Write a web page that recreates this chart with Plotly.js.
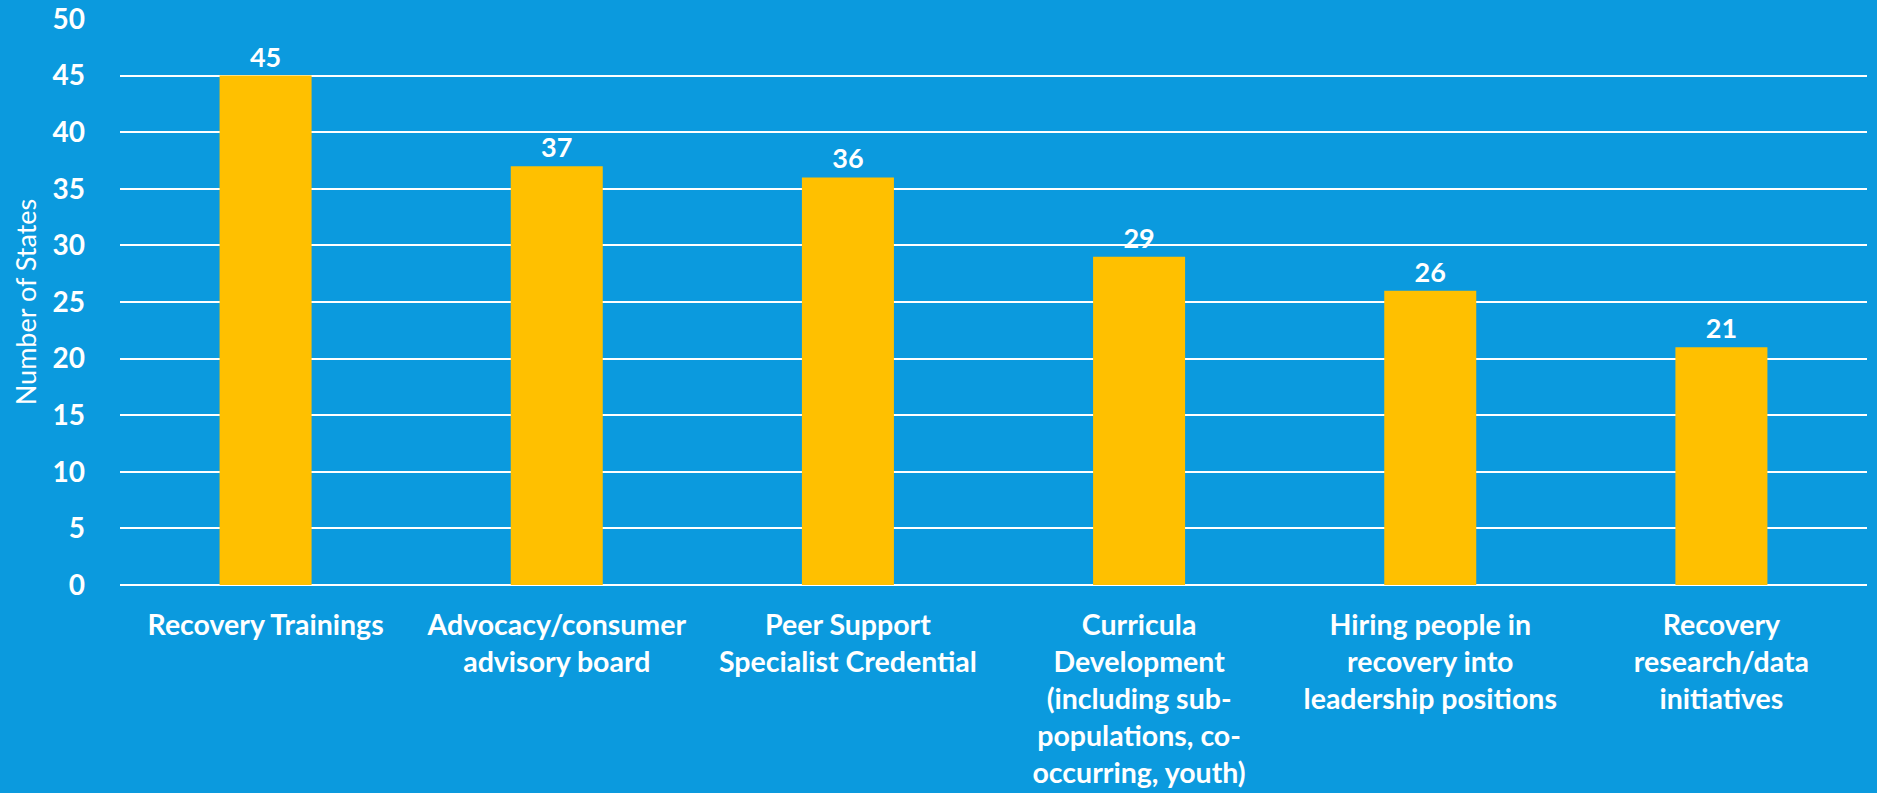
<!DOCTYPE html>
<html><head><meta charset="utf-8">
<script src="https://cdn.plot.ly/plotly-3.0.1.min.js"></script>
<style>html,body{margin:0;padding:0;background:#0B9ADE;}</style>
</head><body>
<div id="chart" style="width:1877px;height:793px;"></div>
<script>
const categories = [
  "Recovery Trainings",
  "Advocacy/consumer<br>advisory board",
  "Peer Support<br>Specialist Credential",
  "Curricula<br>Development<br>(including sub-<br>populations, co-<br>occurring, youth)",
  "Hiring people in<br>recovery into<br>leadership positions",
  "Recovery<br>research/data<br>initiatives"
];
const values = [45, 37, 36, 29, 26, 21];
const yTitle = "Number of States";

const bg = "#0B9ADE";
const data = [{
  type: "bar",
  x: categories,
  y: values,
  marker: {color: "#FFC000"},
  text: values.map(String),
  textposition: "outside",
  cliponaxis: false,
  textfont: {family: "Lato", size: 27, color: "#FFFFFF", weight: "bold"},
  hoverinfo: "skip"
}];
const layout = {
  width: 1877, height: 793,
  paper_bgcolor: bg, plot_bgcolor: bg,
  margin: {l: 120, r: 10, t: 19, b: 208},
  bargap: 0.684,
  showlegend: false,
  font: {family: "Lato", color: "#FFFFFF"},
  xaxis: {
    tickfont: {family: "Lato", size: 28.5, color: "#FFFFFF", weight: "bold"},
    showline: false, ticks: "", showgrid: false, zeroline: false,
    automargin: false, tickangle: 0, ticklabelstandoff: 20
  },
  yaxis: {
    range: [0, 50], dtick: 5, tick0: 0,
    showgrid: true, gridcolor: "#FFFFFF", gridwidth: 2,
    zeroline: true, zerolinecolor: "#FFFFFF", zerolinewidth: 2,
    tickfont: {family: "Lato", size: 28, color: "#FFFFFF", weight: "bold"},
    ticks: "", ticklen: 0, ticklabelstandoff: 34,
    automargin: false,
    title: {text: yTitle, font: {family: "Lato", size: 27, color: "#FFFFFF"}, standoff: 8}
  }
};
Plotly.newPlot("chart", data, layout, {displayModeBar: false, staticPlot: true});
</script>
</body></html>
